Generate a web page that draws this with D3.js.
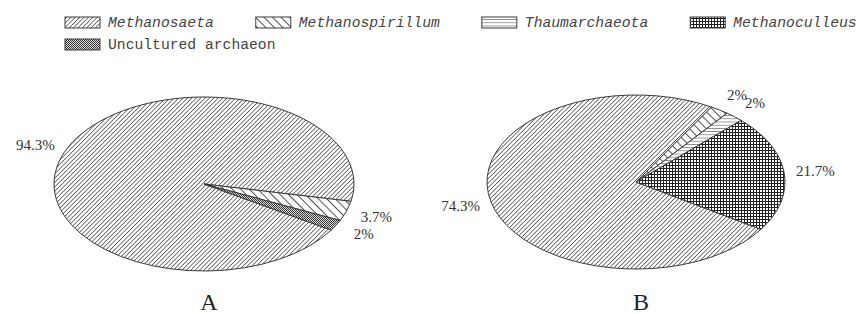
<!DOCTYPE html>
<html>
<head>
<meta charset="utf-8">
<script src="https://cdn.jsdelivr.net/npm/d3@7"></script>
<style>
  body { margin: 0; background: #fff; }
</style>
</head>
<body>
<div id="chart"></div>
<script>
// ---------------------- data ----------------------
var taxa = ["Methanosaeta", "Methanospirillum", "Thaumarchaeota", "Methanoculleus", "Uncultured archaeon"];
var italicTaxa = [true, true, true, true, false];
var panelNames = ["A", "B"];
var valuesA = [94.3, 3.7, 0, 0, 2];
var valuesB = [74.3, 2, 2, 21.7, 0];

// ---------------------- setup ----------------------
var svg = d3.select("#chart")
     .append("svg")
     .attr("width", 862)
     .attr("height", 314)
     .style("background", "#fff");

var defs = svg.append("defs");
var ink = "#3a3a3a";

// hatch patterns, one for each taxon
function hatch(id, size, angle, w, col) {
  var p = defs.append("pattern")
       .attr("id", id)
       .attr("patternUnits", "userSpaceOnUse")
       .attr("width", size).attr("height", size)
       .attr("patternTransform", "rotate(" + angle + ")");
  p.append("rect").attr("width", size).attr("height", size).attr("fill", "#fff");
  p.append("line").attr("x1", 0).attr("y1", 0).attr("x2", 0).attr("y2", size)
       .attr("stroke", col).attr("stroke-width", w);
}
hatch("p0", 3.1, 45, 1.5, "#505050");    // ////
hatch("p1", 6, -45, 1.7, "#333");        // \\\\
hatch("p2", 3.2, 90, 1.1, "#444");       // ====

var grid = defs.append("pattern")
     .attr("id", "p3").attr("patternUnits", "userSpaceOnUse")
     .attr("width", 3).attr("height", 3);
grid.append("rect").attr("width", 3).attr("height", 3).attr("fill", "#fff");
grid.append("path").attr("d", "M0,0.5H3M0.5,0V3").attr("stroke", "#222").attr("stroke-width", 1);

var check = defs.append("pattern")
     .attr("id", "p4").attr("patternUnits", "userSpaceOnUse")
     .attr("width", 2).attr("height", 2);
check.append("rect").attr("width", 2).attr("height", 2).attr("fill", "#ddd");
check.append("rect").attr("width", 1).attr("height", 1).attr("fill", "#333");
check.append("rect").attr("x", 1).attr("y", 1).attr("width", 1).attr("height", 1).attr("fill", "#333");

// ---------------------- legend ----------------------
var legend = svg.append("g").attr("font-family", "'Liberation Mono', monospace").attr("font-size", "14.7px");
var lx = 65, ly = 17;
taxa.forEach(function(t, i) {
  if (i == 4) { lx = 65; ly = 39; }
  legend.append("rect")
       .attr("x", lx).attr("y", ly).attr("width", 35).attr("height", 11)
       .attr("fill", "url(#p" + i + ")")
       .attr("stroke", ink).attr("stroke-width", 1);
  var txt = legend.append("text")
       .attr("x", lx + 43).attr("y", ly + 10)
       .attr("fill", "#444")
       .style("font-style", italicTaxa[i] ? "italic" : "normal")
       .text(t);
  lx = lx + 43 + txt.node().getComputedTextLength() + 42;
});

// ---------------------- pies ----------------------
var pies = [
  { values: valuesA, cx: 204, cy: 184, rx: 150, ry: 87, start: 122 },
  { values: valuesB, cx: 636, cy: 182, rx: 149, ry: 87, start: 123 }
];

pies.forEach(function(cfg, k) {
  var a0 = cfg.start * Math.PI / 180;
  var pie = d3.pie().sort(null).startAngle(a0).endAngle(a0 + 2 * Math.PI);
  var arcs = pie(cfg.values);
  var g = svg.append("g");

  function pt(a, f) {
    return [cfg.cx + f * cfg.rx * Math.sin(a), cfg.cy - f * cfg.ry * Math.cos(a)];
  }

  g.selectAll("path")
       .data(arcs.filter(function(d) { return d.value > 0; }))
       .enter()
       .append("path")
       .attr("d", function(d) {
         var p0 = pt(d.startAngle, 1), p1 = pt(d.endAngle, 1);
         var large = (d.endAngle - d.startAngle) > Math.PI ? 1 : 0;
         return "M" + cfg.cx + "," + cfg.cy + "L" + p0 + "A" + cfg.rx + "," + cfg.ry +
                " 0 " + large + " 1 " + p1 + "Z";
       })
       .attr("fill", function(d) { return "url(#p" + d.index + ")"; })
       .attr("stroke", ink)
       .attr("stroke-width", 1)
       .attr("stroke-linejoin", "round");

  g.selectAll("text.lab")
       .data(arcs.filter(function(d) { return d.value > 0; }))
       .enter()
       .append("text")
       .attr("class", "lab")
       .attr("x", function(d) { return pt((d.startAngle + d.endAngle) / 2, 1.21)[0]; })
       .attr("y", function(d) { return pt((d.startAngle + d.endAngle) / 2, 1.21)[1] + 5; })
       .attr("text-anchor", "middle")
       .attr("font-family", "'Liberation Serif', serif")
       .attr("font-size", "15px")
       .attr("fill", "#333")
       .text(function(d) { return d.value + "%"; });

  svg.append("text")
       .attr("x", cfg.cx + 5).attr("y", 310)
       .attr("text-anchor", "middle")
       .attr("font-family", "'Liberation Serif', serif")
       .attr("font-size", "24px")
       .attr("fill", "#222")
       .text(panelNames[k]);
});
</script>
</body>
</html>
